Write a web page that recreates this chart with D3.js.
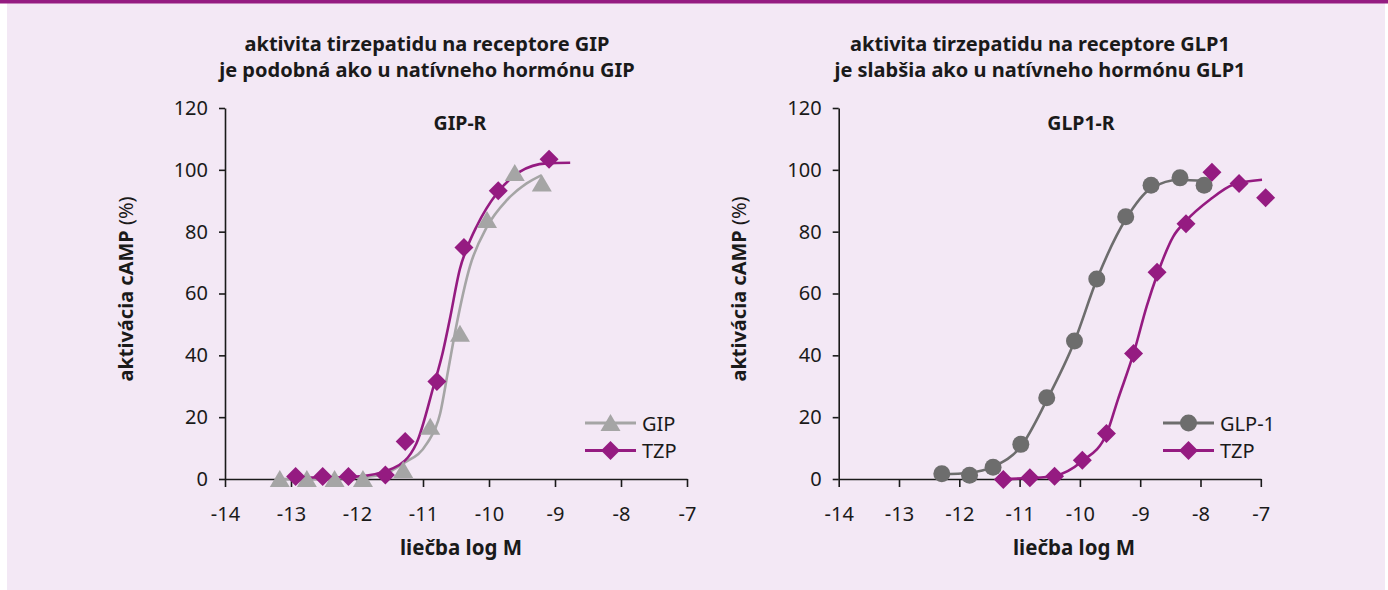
<!DOCTYPE html>
<html>
<head>
<meta charset="utf-8">
<script src="https://cdn.jsdelivr.net/npm/d3@7"></script>
<style>
    body { margin: 0; background: #ffffff; }
    svg text { font-family: "Noto Sans", "Open Sans", sans-serif; fill: #1a1a1a; }
</style>
</head>
<body>
<div id="chart"></div>
<script>

// axis ticks
const xTicks = [-14, -13, -12, -11, -10, -9, -8, -7];
const yTicks = [0, 20, 40, 60, 80, 100, 120];

// GIP-R panel: measured points
const gipLogM = [-13.17, -12.76, -12.34, -11.91, -11.30, -10.89, -10.44, -10.03, -9.61, -9.20];
const gipAct  = [0, 0, 0, 0, 2.9, 16.9, 47, 83.8, 99.0, 95.6];
const tzpGipLogM = [-12.93, -12.52, -12.13, -11.57, -11.27, -10.79, -10.38, -9.86, -9.09];
const tzpGipAct  = [0.8, 0.8, 0.8, 1.3, 12.1, 31.5, 74.9, 93.2, 103.4];

// GIP-R panel: fitted curves
const gipFitLogM = [-13.17, -12.5, -12.0, -11.6, -11.30, -10.94, -10.74, -10.62, -10.50, -10.29, -10.03, -9.73, -9.43, -9.20];
const gipFitAct  = [0, 0.1, 0.4, 1.5, 5, 11.5, 21.2, 35, 49, 68.7, 81.6, 90.2, 95.6, 98.3];
const tzpGipFitLogM = [-12.93, -12.5, -12.0, -11.45, -11.10, -10.84, -10.70, -10.60, -10.44, -10.30, -10.19, -9.88, -9.53, -9.13, -8.77];
const tzpGipFitAct  = [0.5, 0.5, 0.8, 3.5, 11.5, 30, 41, 51, 68, 76.5, 81.6, 92.4, 99.4, 102.1, 102.3];

// GLP1-R panel: measured points
const glp1LogM = [-12.29, -11.83, -11.44, -10.98, -10.55, -10.09, -9.72, -9.24, -8.82, -8.34, -7.94];
const glp1Act  = [1.7, 1.2, 3.8, 11.2, 26.3, 44.6, 64.7, 84.8, 95.0, 97.4, 95.0];
const tzpGlpLogM = [-11.27, -10.83, -10.42, -9.96, -9.56, -9.11, -8.72, -8.24, -7.81, -7.36, -6.92];
const tzpGlpAct  = [-0.2, 0.4, 0.9, 6.1, 14.7, 40.6, 66.9, 82.6, 99.2, 95.6, 91.0];

// GLP1-R panel: fitted curves
const glp1FitLogM = [-12.29, -11.83, -11.44, -10.98, -10.55, -10.09, -9.72, -9.24, -8.82, -8.34, -7.94];
const glp1FitAct  = [1.5, 2.0, 4.0, 10.5, 25.5, 44.5, 64.5, 84, 94, 96.8, 96.3];
const tzpGlpFitLogM = [-11.27, -10.83, -10.42, -9.96, -9.56, -9.37, -9.11, -8.89, -8.72, -8.45, -8.24, -7.84, -7.46, -6.98];
const tzpGlpFitAct  = [0, 0.3, 1.0, 5.8, 14.5, 25.7, 40.6, 56, 66, 78.5, 83.5, 90.4, 95.2, 96.8];

const purple = "#951b81";
const lightGrey = "#a5a5a5";
const darkGrey = "#6d6d6d";

const svg = d3.select("#chart").append("svg")
    .attr("width", 1388)
    .attr("height", 590);

// background + top band
svg.append("rect").attr("x", 7).attr("y", 0).attr("width", 1378).attr("height", 590).attr("fill", "#f3e8f5");
svg.append("rect").attr("x", 0).attr("y", 0).attr("width", 1388).attr("height", 3.5).attr("fill", purple);

const zip = (xs, ys) => xs.map((x, i) => ({x: x, y: ys[i]}));

function drawMarker(g, shape, color, cx, cy) {
    if (shape === "triangle") {
        g.append("path")
            .attr("d", `M${cx},${cy - 9} L${cx + 10},${cy + 8} L${cx - 10},${cy + 8} Z`)
            .attr("fill", color);
    } else if (shape === "diamond") {
        g.append("path")
            .attr("d", `M${cx},${cy - 9.5} L${cx + 9.5},${cy} L${cx},${cy + 9.5} L${cx - 9.5},${cy} Z`)
            .attr("fill", color);
    } else {
        g.append("circle").attr("cx", cx).attr("cy", cy).attr("r", 8.5).attr("fill", color);
    }
}

function drawPanel(cfg) {
    let x = d3.scaleLinear().domain([-14, -7]).range(cfg.xRange);
    let y = d3.scaleLinear().domain([0, 120]).range([479, 108]);
    let g = svg.append("g");

    // titles
    let title = g.append("text")
        .attr("text-anchor", "middle")
        .style("font-size", "20px")
        .style("font-weight", "bold");
    title.append("tspan").attr("x", cfg.titleX).attr("y", 51).text(cfg.title[0]);
    title.append("tspan").attr("x", cfg.titleX).attr("y", 77).text(cfg.title[1]);

    g.append("text")
        .attr("x", cfg.subX).attr("y", 130)
        .attr("text-anchor", "middle")
        .style("font-size", "19.5px")
        .style("font-weight", "bold")
        .text(cfg.sub);

    // axes
    let yAxis = g.append("g")
        .attr("transform", `translate(${cfg.xRange[0]},0)`)
        .call(d3.axisLeft(y).tickValues(yTicks).tickSize(6).tickSizeOuter(0).tickPadding(11));
    let xAxis = g.append("g")
        .attr("transform", `translate(0,${y(0)})`)
        .call(d3.axisBottom(x).tickValues(xTicks).tickSize(8).tickSizeOuter(0).tickPadding(20).tickFormat(d => String(d)));
    [xAxis, yAxis].forEach(a => {
        a.select(".domain").attr("stroke", "#1a1a1a").attr("stroke-width", 1.6);
        a.selectAll(".tick line").attr("stroke", "#1a1a1a").attr("stroke-width", 1.6);
        a.selectAll(".tick text")
            .style("font-family", '"Noto Sans", "Open Sans", sans-serif')
            .style("font-size", "20px")
            .attr("fill", "#1a1a1a");
    });

    // axis titles
    g.append("text")
        .attr("x", cfg.xLabelX).attr("y", 555)
        .attr("text-anchor", "middle")
        .style("font-size", "20.5px")
        .style("font-weight", "bold")
        .text("liečba log M");

    let yl = g.append("text")
        .attr("transform", `translate(${cfg.yLabelX},289) rotate(-90)`)
        .attr("text-anchor", "middle")
        .style("font-size", "20px")
        .style("font-weight", "bold");
    yl.append("tspan").text("aktivácia cAMP ");
    yl.append("tspan").style("font-weight", "normal").text("(%)");

    // fitted curves
    let line = d3.line().x(d => x(d.x)).y(d => y(d.y)).curve(d3.curveMonotoneX);
    cfg.series.forEach(s => {
        g.append("path")
            .datum(zip(s.fitX, s.fitY))
            .attr("d", line)
            .attr("fill", "none")
            .attr("stroke", s.color)
            .attr("stroke-width", 2.6);
    });

    // markers
    cfg.series.forEach(s => {
        zip(s.xs, s.ys).forEach(d => drawMarker(g, s.shape, s.color, x(d.x), y(d.y)));
    });

    // legend
    cfg.series.forEach((s, i) => {
        let ly = 423 + i * 27.5;
        g.append("line")
            .attr("x1", cfg.legendX).attr("x2", cfg.legendX + 51)
            .attr("y1", ly).attr("y2", ly)
            .attr("stroke", s.color).attr("stroke-width", 3);
        drawMarker(g, s.shape, s.color, cfg.legendX + 25.5, ly);
        g.append("text")
            .attr("x", cfg.legendX + 57).attr("y", ly)
            .attr("dominant-baseline", "central")
            .style("font-size", "20px")
            .text(s.name);
    });
}

drawPanel({
    xRange: [225, 687],
    titleX: 427,
    title: ["aktivita tirzepatidu na receptore GIP", "je podobná ako u natívneho hormónu GIP"],
    subX: 460, sub: "GIP-R",
    xLabelX: 461, yLabelX: 133,
    legendX: 585,
    series: [
        {name: "GIP", shape: "triangle", color: lightGrey, xs: gipLogM, ys: gipAct, fitX: gipFitLogM, fitY: gipFitAct},
        {name: "TZP", shape: "diamond", color: purple, xs: tzpGipLogM, ys: tzpGipAct, fitX: tzpGipFitLogM, fitY: tzpGipFitAct}
    ]
});

drawPanel({
    xRange: [838.7, 1260.8],
    titleX: 1040,
    title: ["aktivita tirzepatidu na receptore GLP1", "je slabšia ako u natívneho hormónu GLP1"],
    subX: 1081, sub: "GLP1-R",
    xLabelX: 1074, yLabelX: 746,
    legendX: 1163,
    series: [
        {name: "GLP-1", shape: "circle", color: darkGrey, xs: glp1LogM, ys: glp1Act, fitX: glp1FitLogM, fitY: glp1FitAct},
        {name: "TZP", shape: "diamond", color: purple, xs: tzpGlpLogM, ys: tzpGlpAct, fitX: tzpGlpFitLogM, fitY: tzpGlpFitAct}
    ]
});

</script>
</body>
</html>
